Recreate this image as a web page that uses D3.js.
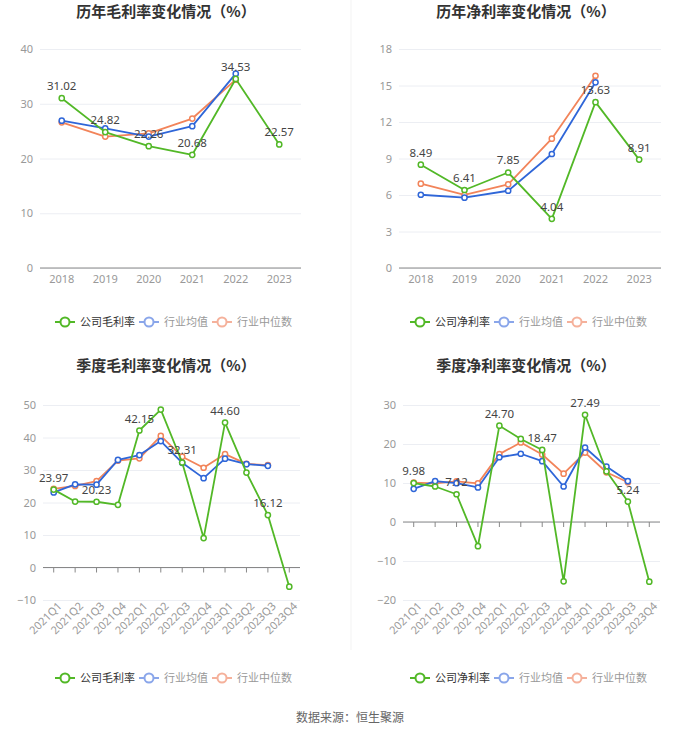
<!DOCTYPE html>
<html><head><meta charset="utf-8">
<script src="https://cdn.jsdelivr.net/npm/d3@7/dist/d3.min.js"></script>
<style>
body{margin:0;background:#fff;}
svg text{font-family:"Noto Sans CJK SC","Noto Sans",sans-serif;}
</style></head>
<body><svg id="c" width="700" height="733"></svg>
<script>
const years = ["2018","2019","2020","2021","2022","2023"];
const quarters = ["2021Q1","2021Q2","2021Q3","2021Q4","2022Q1","2022Q2","2022Q3","2022Q4","2023Q1","2023Q2","2023Q3","2023Q4"];

const annualGrossCompany = [31.02,24.82,22.26,20.68,34.53,22.57];
const annualGrossMean    = [26.9,25.5,24.0,25.9,35.5];
const annualGrossMedian  = [26.6,24.0,24.6,27.3,34.4];

const annualNetCompany = [8.49,6.41,7.85,4.04,13.63,8.91];
const annualNetMean    = [6.02,5.78,6.35,9.37,15.26];
const annualNetMedian  = [6.93,6.02,6.88,10.63,15.8];

const quarterGrossCompany = [23.97,20.3,20.23,19.3,42.15,48.6,32.31,9.05,44.60,29.2,16.12,-5.9];
const quarterGrossMean    = [23.1,25.6,25.5,33.1,34.6,38.9,32.2,27.5,33.5,31.8,31.3];
const quarterGrossMedian  = [24.2,25.1,26.6,32.9,33.6,40.5,34.1,30.7,34.9,31.9,31.5];

const quarterNetCompany = [9.98,9.1,7.12,-6.2,24.70,21.3,18.47,-15.2,27.49,13.0,5.24,-15.3];
const quarterNetMean    = [8.5,10.5,9.95,8.85,16.6,17.5,15.6,9.1,19.1,14.2,10.5];
const quarterNetMedian  = [10.1,9.9,10.4,9.9,17.4,20.4,17.3,12.4,17.8,12.75,10.2];

const titles = ["历年毛利率变化情况（%）","历年净利率变化情况（%）","季度毛利率变化情况（%）","季度净利率变化情况（%）"];
const legendGross = ["公司毛利率","行业均值","行业中位数"];
const legendNet = ["公司净利率","行业均值","行业中位数"];
const ticksAnnualGross = [0,10,20,30,40];
const ticksAnnualNet = [0,3,6,9,12,15,18];
const ticksQuarterGross = [-10,0,10,20,30,40,50];
const ticksQuarterNet = [-20,-10,0,10,20,30];
const source = "数据来源：恒生聚源";

const C_GREEN = "#52b827", C_BLUE = "#2f66d8", C_ORANGE = "#f2845a";
const L_GREEN = "#52b827", L_BLUE = "#8aa6ea", L_ORANGE = "#f5b19b";

const svg = d3.select("#c");
svg.append("rect").attr("width",700).attr("height",733).attr("fill","#fff");
svg.append("line").attr("x1",351).attr("x2",351).attr("y1",0).attr("y2",650).attr("stroke","#f3f3f3");

function panel(o){
  const g = svg.append("g");
  const x = d3.scaleBand().domain(o.cats).range([o.x0,o.x1]);
  const y = d3.scaleLinear().domain(o.domain).range([o.yb,o.yt]);
  const cx = d => x(d)+x.bandwidth()/2;
  g.append("text").attr("x",o.tx).attr("y",o.ty).attr("text-anchor","middle")
    .attr("font-size",15).attr("font-weight","bold").attr("fill","#333").text(o.title);
  const yAxis = d3.axisLeft(y).tickValues(o.ticks).tickSize(-(o.x1-o.x0)).tickPadding(7);
  const ga = g.append("g").attr("transform",`translate(${o.x0},0)`).call(yAxis);
  ga.select(".domain").remove();
  ga.selectAll(".tick line").attr("stroke","#eceef3");
  ga.selectAll(".tick text").attr("fill","#999").attr("font-size",11).style("font-family","'Noto Sans','Liberation Sans',sans-serif");
  const y0 = y(0);
  const xAxis = d3.axisBottom(x).tickSize(o.rot?5:0).tickPadding(6);
  const gx = g.append("g").attr("transform",`translate(0,${y0})`).call(xAxis);
  gx.select(".domain").attr("stroke","#888").attr("d",`M${o.x0},0H${o.x1}`);
  gx.selectAll(".tick line").attr("stroke","#888");
  gx.selectAll(".tick text").attr("fill","#999").attr("font-size",11).style("font-family","'Noto Sans','Liberation Sans',sans-serif");
  if(o.rot){
    gx.selectAll(".tick text").attr("text-anchor","end")
      .attr("transform",`translate(6,${o.yb-y0+4}) rotate(-45)`).attr("dy","0.35em").attr("y",0).attr("x",0);
  } else {
    gx.selectAll(".tick text").attr("y",7);
  }
  const line = d3.line().x((d,i)=>cx(o.cats[i])).y(d=>y(d));
  const series = [[o.median,C_ORANGE],[o.mean,C_BLUE],[o.company,C_GREEN]];
  series.forEach(([data,col])=>{
    g.append("path").attr("d",line(data)).attr("fill","none").attr("stroke",col).attr("stroke-width",1.8).attr("stroke-linejoin","round");
    g.selectAll(null).data(data).enter().append("circle")
      .attr("cx",(d,i)=>cx(o.cats[i])).attr("cy",d=>y(d)).attr("r",2.6)
      .attr("fill","#fff").attr("stroke",col).attr("stroke-width",1.5);
  });
  o.company.forEach((d,i)=>{
    if(o.labelIdx.indexOf(i)<0) return;
    g.append("text").attr("x",cx(o.cats[i])).attr("y",y(d)-8).attr("text-anchor","middle")
      .attr("font-size",11.5).attr("fill","#444").style("font-family","'Noto Sans','Liberation Sans',sans-serif").text(d.toFixed(2));
  });
  const items = [[o.legend[0],L_GREEN,"#333"],[o.legend[1],L_BLUE,"#999"],[o.legend[2],L_ORANGE,"#999"]];
  const lx = [o.lx, o.lx+84, o.lx+157];
  items.forEach(([t,col,tc],k)=>{
    const lg = g.append("g").attr("transform",`translate(${lx[k]},${o.ly})`);
    lg.append("line").attr("x1",0).attr("x2",20).attr("stroke",col).attr("stroke-width",2);
    lg.append("circle").attr("cx",10).attr("r",4.5).attr("fill","#fff").attr("stroke",col).attr("stroke-width",2);
    lg.append("text").attr("x",25).attr("y",0).attr("dy","0.35em").attr("font-size",11).attr("fill",tc).text(t);
  });
}

panel({cats:years,domain:[0,40],ticks:ticksAnnualGross,x0:40,x1:301,yb:268,yt:49,title:titles[0],tx:166,ty:17,
  company:annualGrossCompany,mean:annualGrossMean,median:annualGrossMedian,labelIdx:[0,1,2,3,4,5],legend:legendGross,lx:55,ly:322});
panel({cats:years,domain:[0,18],ticks:ticksAnnualNet,x0:399,x1:661,yb:268,yt:49,title:titles[1],tx:526,ty:17,
  company:annualNetCompany,mean:annualNetMean,median:annualNetMedian,labelIdx:[0,1,2,3,4,5],legend:legendNet,lx:410,ly:322});
panel({cats:quarters,domain:[-10,50],ticks:ticksQuarterGross,x0:43,x1:300,yb:600,yt:405,title:titles[2],tx:166,ty:371,rot:true,
  company:quarterGrossCompany,mean:quarterGrossMean,median:quarterGrossMedian,labelIdx:[0,2,4,6,8,10],legend:legendGross,lx:55,ly:678});
panel({cats:quarters,domain:[-20,30],ticks:ticksQuarterNet,x0:403,x1:660,yb:600,yt:405,title:titles[3],tx:526,ty:371,rot:true,
  company:quarterNetCompany,mean:quarterNetMean,median:quarterNetMedian,labelIdx:[0,2,4,6,8,10],legend:legendNet,lx:410,ly:678});

svg.append("text").attr("x",350).attr("y",722).attr("text-anchor","middle").attr("font-size",12).attr("fill","#666").text(source);
</script></body></html>
